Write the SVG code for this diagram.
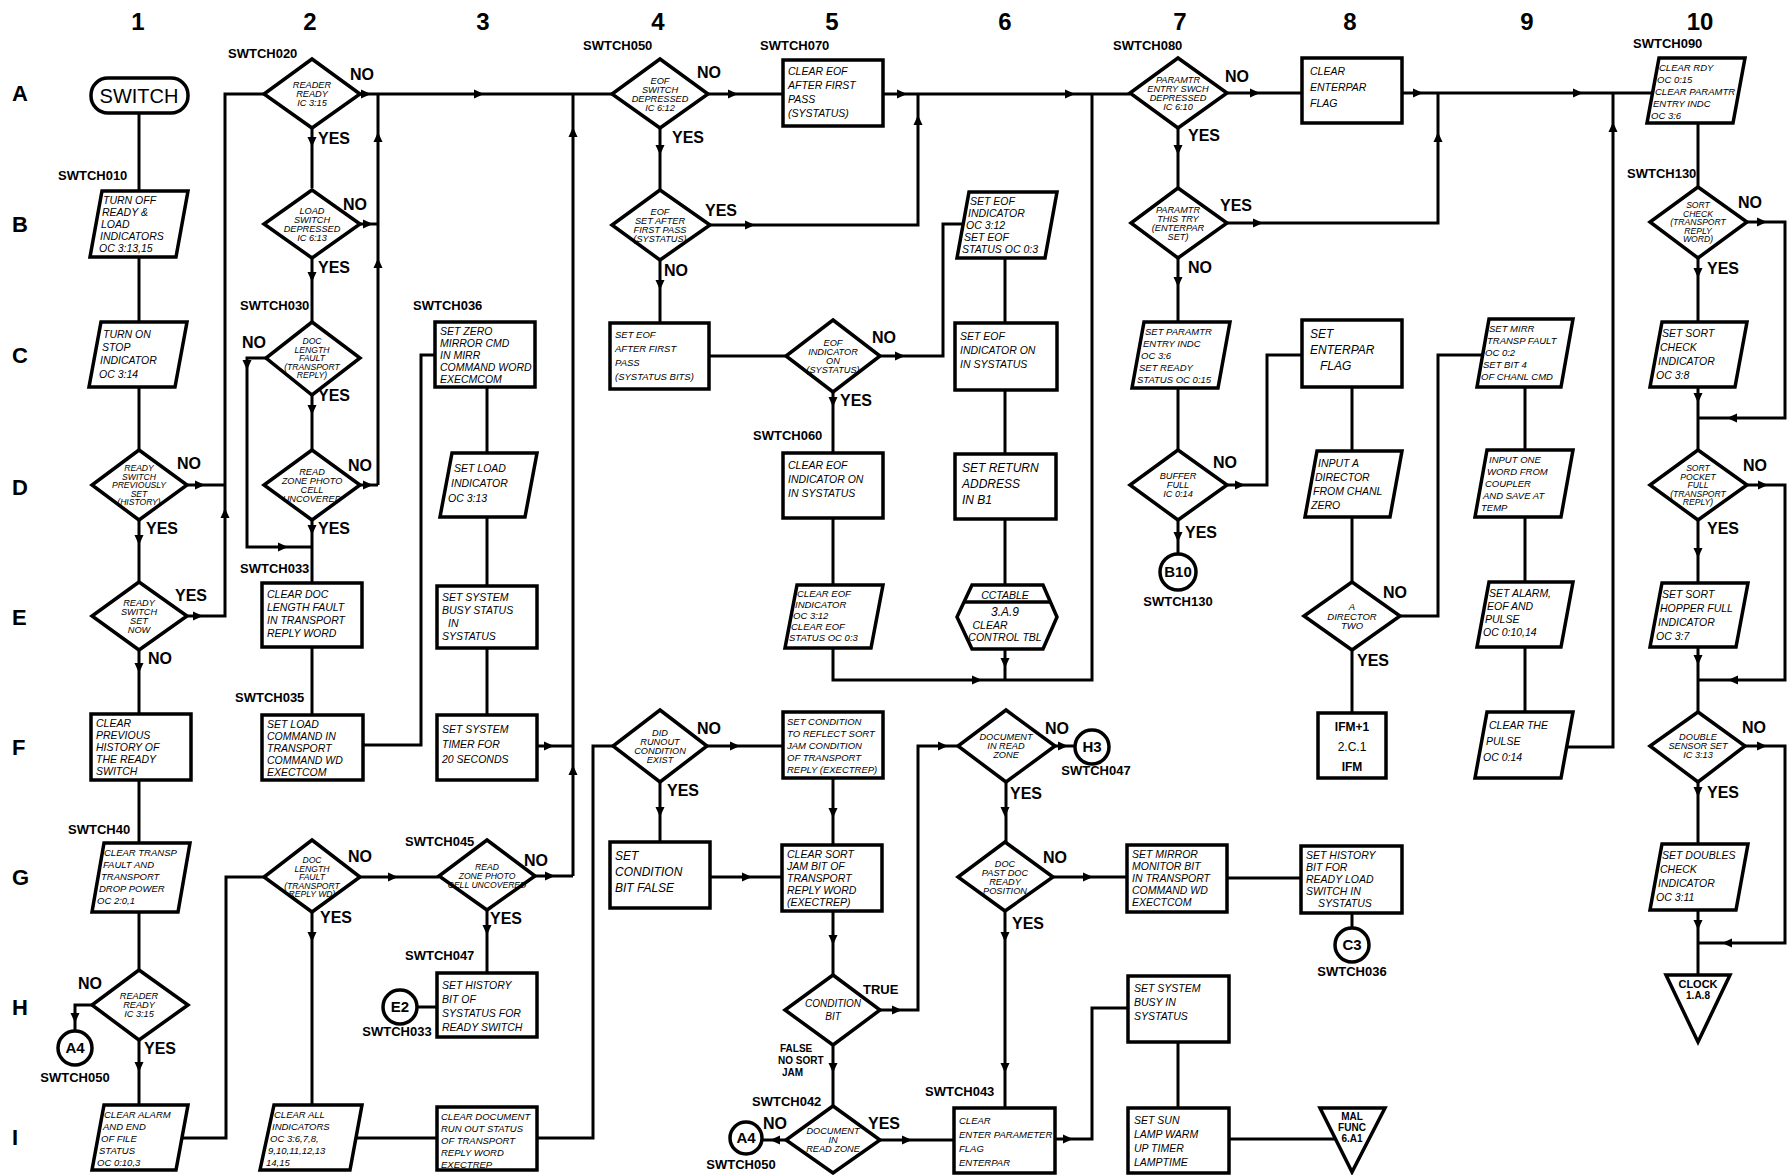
<svg xmlns="http://www.w3.org/2000/svg" xmlns:xlink="http://www.w3.org/1999/xlink" width="1788" height="1175" viewBox="0 0 1788 1175">
<defs>
<style>
.n rect,.n path,.n polygon,.n circle{fill:#fff;stroke:#000;stroke-width:3.5}
.c path{fill:none;stroke:#000;stroke-width:3}
.ar use{fill:#000}
text{font-family:"Liberation Sans",Arial,sans-serif;fill:#000}
.t{font-size:10.5px;font-style:italic}
.ts{font-size:9.5px;font-style:italic}
.tb{font-size:12px;font-style:italic}
.d{font-size:9.2px;font-style:italic;text-anchor:middle}
.ds{font-size:8.6px;font-style:italic;text-anchor:middle}
.lb{font-size:13px;font-weight:bold}
.lbm{font-size:13px;font-weight:bold;text-anchor:middle}
.yn{font-size:16px;font-weight:bold}
.hd{font-size:24px;font-weight:bold;text-anchor:middle}
.rw{font-size:22px;font-weight:bold}
.cn{font-size:15px;font-weight:bold;text-anchor:middle}
.tm{font-size:10px;font-weight:bold;text-anchor:middle}
</style>
<path id="ah" d="M-5,-4.5L5,0L-5,4.5Z"/>
</defs>
<rect width="1788" height="1175" fill="#fff"/>

<g id="headers">
<text class="hd" x="138" y="30">1</text>
<text class="hd" x="310" y="30">2</text>
<text class="hd" x="483" y="30">3</text>
<text class="hd" x="658" y="30">4</text>
<text class="hd" x="832" y="30">5</text>
<text class="hd" x="1005" y="30">6</text>
<text class="hd" x="1180" y="30">7</text>
<text class="hd" x="1350" y="30">8</text>
<text class="hd" x="1527" y="30">9</text>
<text class="hd" x="1700" y="30">10</text>
<text class="rw" x="12" y="101">A</text>
<text class="rw" x="12" y="232">B</text>
<text class="rw" x="12" y="363">C</text>
<text class="rw" x="12" y="495">D</text>
<text class="rw" x="12" y="625">E</text>
<text class="rw" x="12" y="755">F</text>
<text class="rw" x="12" y="885">G</text>
<text class="rw" x="12" y="1015">H</text>
<text class="rw" x="12" y="1145">I</text>
</g>

<g id="connectors" class="c">
<path d="M139,113V191"/>
<path d="M139,257V322"/>
<path d="M139,387V450"/>
<path d="M187,485H225"/>
<path d="M139,520V582"/>
<path d="M187,616H225V94H264"/>
<path d="M139,650V714"/>
<path d="M139,780V843"/>
<path d="M139,912V970"/>
<path d="M92,1005H75V1031"/>
<path d="M139,1040V1105"/>
<path d="M183,1138H226V877H264"/>
<path d="M312,128V188"/>
<path d="M360,94H612"/>
<path d="M378,485V94"/>
<path d="M360,224H378"/>
<path d="M312,258V322"/>
<path d="M266,358H247V547H312"/>
<path d="M312,395V450"/>
<path d="M360,485H378"/>
<path d="M312,520V583"/>
<path d="M312,647V715"/>
<path d="M363,745H421V355H435"/>
<path d="M360,877H439"/>
<path d="M312,912V1105"/>
<path d="M356,1138H437"/>
<path d="M487,387V453"/>
<path d="M487,517V586"/>
<path d="M487,648V715"/>
<path d="M537,746H573"/>
<path d="M573,876V94"/>
<path d="M535,876H573"/>
<path d="M487,910V973"/>
<path d="M418,1007H437"/>
<path d="M537,1138H593V746H613"/>
<path d="M708,94H783"/>
<path d="M660,128V190"/>
<path d="M710,225H918V94"/>
<path d="M660,260V323"/>
<path d="M709,356H786"/>
<path d="M707,746H783"/>
<path d="M660,782V842"/>
<path d="M710,877H782"/>
<path d="M883,94H1130"/>
<path d="M880,356H943V224H963"/>
<path d="M833,392V453"/>
<path d="M833,518V585"/>
<path d="M833,648V680H1092V94"/>
<path d="M833,778V845"/>
<path d="M833,911V975"/>
<path d="M880,1010H918V746H958"/>
<path d="M833,1045V1106"/>
<path d="M786,1140H762"/>
<path d="M880,1140H954"/>
<path d="M1005,258V323"/>
<path d="M1005,390V454"/>
<path d="M1005,519V585"/>
<path d="M1005,649V680"/>
<path d="M1055,746H1075"/>
<path d="M1006,782V842"/>
<path d="M1053,877H1127"/>
<path d="M1005,911V1108"/>
<path d="M1055,1139H1092V1008H1128"/>
<path d="M1227,93H1302"/>
<path d="M1178,128V188"/>
<path d="M1227,223H1438V93"/>
<path d="M1178,258V322"/>
<path d="M1178,388V450"/>
<path d="M1227,485H1267V355H1302"/>
<path d="M1178,520V554"/>
<path d="M1227,878H1301"/>
<path d="M1178,1042V1108"/>
<path d="M1229,1139H1337"/>
<path d="M1402,93H1653"/>
<path d="M1352,387V451"/>
<path d="M1352,517V582"/>
<path d="M1400,616H1438V355H1483"/>
<path d="M1352,650V713"/>
<path d="M1352,913V928"/>
<path d="M1525,387V450"/>
<path d="M1525,517V582"/>
<path d="M1525,647V712"/>
<path d="M1567,747H1613V93"/>
<path d="M1698,123V187"/>
<path d="M1747,222H1785V418H1698"/>
<path d="M1698,258V322"/>
<path d="M1698,387V450"/>
<path d="M1747,485H1785V680H1698"/>
<path d="M1698,520V583"/>
<path d="M1698,647V712"/>
<path d="M1745,746H1785V943H1698"/>
<path d="M1698,782V844"/>
<path d="M1698,910V975"/>
</g>

<g id="arrows" class="ar">
<use xlink:href="#ah" transform="translate(200,485)"/>
<use xlink:href="#ah" transform="translate(198,616)"/>
<use xlink:href="#ah" transform="translate(366,94)"/>
<use xlink:href="#ah" transform="translate(479,94)"/>
<use xlink:href="#ah" transform="translate(368,224)"/>
<use xlink:href="#ah" transform="translate(368,485)"/>
<use xlink:href="#ah" transform="translate(283,547)"/>
<use xlink:href="#ah" transform="translate(393,877)"/>
<use xlink:href="#ah" transform="translate(549,746)"/>
<use xlink:href="#ah" transform="translate(550,876)"/>
<use xlink:href="#ah" transform="translate(733,94)"/>
<use xlink:href="#ah" transform="translate(750,225)"/>
<use xlink:href="#ah" transform="translate(735,746)"/>
<use xlink:href="#ah" transform="translate(747,877)"/>
<use xlink:href="#ah" transform="translate(902,94)"/>
<use xlink:href="#ah" transform="translate(1070,94)"/>
<use xlink:href="#ah" transform="translate(900,356)"/>
<use xlink:href="#ah" transform="translate(977,680)"/>
<use xlink:href="#ah" transform="translate(897,1010)"/>
<use xlink:href="#ah" transform="translate(943,746)"/>
<use xlink:href="#ah" transform="translate(907,1140)"/>
<use xlink:href="#ah" transform="translate(1063,746)"/>
<use xlink:href="#ah" transform="translate(1088,877)"/>
<use xlink:href="#ah" transform="translate(1068,1139)"/>
<use xlink:href="#ah" transform="translate(1255,93)"/>
<use xlink:href="#ah" transform="translate(1258,223)"/>
<use xlink:href="#ah" transform="translate(1240,485)"/>
<use xlink:href="#ah" transform="translate(1418,93)"/>
<use xlink:href="#ah" transform="translate(1578,93)"/>
<use xlink:href="#ah" transform="translate(1762,222)"/>
<use xlink:href="#ah" transform="translate(1763,485)"/>
<use xlink:href="#ah" transform="translate(1762,746)"/>
<use xlink:href="#ah" transform="translate(139,540) rotate(90)"/>
<use xlink:href="#ah" transform="translate(139,668) rotate(90)"/>
<use xlink:href="#ah" transform="translate(75,1018) rotate(90)"/>
<use xlink:href="#ah" transform="translate(139,1067) rotate(90)"/>
<use xlink:href="#ah" transform="translate(312,142) rotate(90)"/>
<use xlink:href="#ah" transform="translate(312,277) rotate(90)"/>
<use xlink:href="#ah" transform="translate(247,365) rotate(90)"/>
<use xlink:href="#ah" transform="translate(312,410) rotate(90)"/>
<use xlink:href="#ah" transform="translate(312,530) rotate(90)"/>
<use xlink:href="#ah" transform="translate(312,937) rotate(90)"/>
<use xlink:href="#ah" transform="translate(487,930) rotate(90)"/>
<use xlink:href="#ah" transform="translate(660,150) rotate(90)"/>
<use xlink:href="#ah" transform="translate(660,285) rotate(90)"/>
<use xlink:href="#ah" transform="translate(660,812) rotate(90)"/>
<use xlink:href="#ah" transform="translate(833,402) rotate(90)"/>
<use xlink:href="#ah" transform="translate(833,813) rotate(90)"/>
<use xlink:href="#ah" transform="translate(833,940) rotate(90)"/>
<use xlink:href="#ah" transform="translate(833,1068) rotate(90)"/>
<use xlink:href="#ah" transform="translate(1005,663) rotate(90)"/>
<use xlink:href="#ah" transform="translate(1005,812) rotate(90)"/>
<use xlink:href="#ah" transform="translate(1005,937) rotate(90)"/>
<use xlink:href="#ah" transform="translate(1005,1068) rotate(90)"/>
<use xlink:href="#ah" transform="translate(1178,150) rotate(90)"/>
<use xlink:href="#ah" transform="translate(1178,282) rotate(90)"/>
<use xlink:href="#ah" transform="translate(1178,537) rotate(90)"/>
<use xlink:href="#ah" transform="translate(1698,273) rotate(90)"/>
<use xlink:href="#ah" transform="translate(1698,398) rotate(90)"/>
<use xlink:href="#ah" transform="translate(1698,553) rotate(90)"/>
<use xlink:href="#ah" transform="translate(1698,660) rotate(90)"/>
<use xlink:href="#ah" transform="translate(1698,792) rotate(90)"/>
<use xlink:href="#ah" transform="translate(1698,925) rotate(90)"/>
<use xlink:href="#ah" transform="translate(225,513) rotate(270)"/>
<use xlink:href="#ah" transform="translate(378,137) rotate(270)"/>
<use xlink:href="#ah" transform="translate(378,263) rotate(270)"/>
<use xlink:href="#ah" transform="translate(573,132) rotate(270)"/>
<use xlink:href="#ah" transform="translate(573,770) rotate(270)"/>
<use xlink:href="#ah" transform="translate(918,120) rotate(270)"/>
<use xlink:href="#ah" transform="translate(1438,137) rotate(270)"/>
<use xlink:href="#ah" transform="translate(1613,127) rotate(270)"/>
<use xlink:href="#ah" transform="translate(775,1140) rotate(180)"/>
<use xlink:href="#ah" transform="translate(1732,418) rotate(180)"/>
<use xlink:href="#ah" transform="translate(1733,680) rotate(180)"/>
<use xlink:href="#ah" transform="translate(1727,943) rotate(180)"/>
</g>

<g id="labels">
<text class="lb" x="58" y="180">SWTCH010</text>
<text class="lb" x="228" y="58">SWTCH020</text>
<text class="lb" x="240" y="310">SWTCH030</text>
<text class="lb" x="240" y="573">SWTCH033</text>
<text class="lb" x="235" y="702">SWTCH035</text>
<text class="lb" x="68" y="834">SWTCH40</text>
<text class="lb" x="413" y="310">SWTCH036</text>
<text class="lb" x="405" y="846">SWTCH045</text>
<text class="lb" x="405" y="960">SWTCH047</text>
<text class="lb" x="583" y="50">SWTCH050</text>
<text class="lb" x="760" y="50">SWTCH070</text>
<text class="lb" x="753" y="440">SWTCH060</text>
<text class="lb" x="752" y="1106">SWTCH042</text>
<text class="lb" x="925" y="1096">SWTCH043</text>
<text class="lb" x="1113" y="50">SWTCH080</text>
<text class="lb" x="1633" y="48">SWTCH090</text>
<text class="lb" x="1627" y="178">SWTCH130</text>
<text class="lbm" x="75" y="1082">SWTCH050</text>
<text class="lbm" x="397" y="1036">SWTCH033</text>
<text class="lbm" x="741" y="1169">SWTCH050</text>
<text class="lbm" x="1096" y="775">SWTCH047</text>
<text class="lbm" x="1178" y="606">SWTCH130</text>
<text class="lbm" x="1352" y="976">SWTCH036</text>
<text class="yn" x="177" y="469">NO</text>
<text class="yn" x="146" y="534">YES</text>
<text class="yn" x="175" y="601">YES</text>
<text class="yn" x="148" y="664">NO</text>
<text class="yn" x="350" y="80">NO</text>
<text class="yn" x="318" y="144">YES</text>
<text class="yn" x="343" y="210">NO</text>
<text class="yn" x="318" y="273">YES</text>
<text class="yn" x="242" y="348">NO</text>
<text class="yn" x="318" y="401">YES</text>
<text class="yn" x="348" y="471">NO</text>
<text class="yn" x="318" y="534">YES</text>
<text class="yn" x="348" y="862">NO</text>
<text class="yn" x="320" y="923">YES</text>
<text class="yn" x="524" y="866">NO</text>
<text class="yn" x="490" y="924">YES</text>
<text class="yn" x="78" y="989">NO</text>
<text class="yn" x="144" y="1054">YES</text>
<text class="yn" x="697" y="78">NO</text>
<text class="yn" x="672" y="143">YES</text>
<text class="yn" x="705" y="216">YES</text>
<text class="yn" x="664" y="276">NO</text>
<text class="yn" x="872" y="343">NO</text>
<text class="yn" x="840" y="406">YES</text>
<text class="yn" x="697" y="734">NO</text>
<text class="yn" x="667" y="796">YES</text>
<text class="yn" x="1225" y="82">NO</text>
<text class="yn" x="1188" y="141">YES</text>
<text class="yn" x="1220" y="211">YES</text>
<text class="yn" x="1188" y="273">NO</text>
<text class="yn" x="1213" y="468">NO</text>
<text class="yn" x="1185" y="538">YES</text>
<text class="yn" x="1045" y="734">NO</text>
<text class="yn" x="1010" y="799">YES</text>
<text class="yn" x="1043" y="863">NO</text>
<text class="yn" x="1012" y="929">YES</text>
<text class="lb" x="863" y="994">TRUE</text>
<text class="lb" x="780" y="1052" style="font-size:10px">FALSE</text>
<text class="lb" x="778" y="1064" style="font-size:10px">NO SORT</text>
<text class="lb" x="782" y="1076" style="font-size:10px">JAM</text>
<text class="yn" x="763" y="1129">NO</text>
<text class="yn" x="868" y="1129">YES</text>
<text class="yn" x="1383" y="598">NO</text>
<text class="yn" x="1357" y="666">YES</text>
<text class="yn" x="1738" y="208">NO</text>
<text class="yn" x="1707" y="274">YES</text>
<text class="yn" x="1743" y="471">NO</text>
<text class="yn" x="1707" y="534">YES</text>
<text class="yn" x="1742" y="733">NO</text>
<text class="yn" x="1707" y="798">YES</text>
</g>

<g id="n_switch" class="n"><rect x="91" y="78" width="97" height="35" rx="17"/><text x="139" y="103" style="font-size:20px;text-anchor:middle">SWITCH</text></g>
<g id="n_1B" class="n"><polygon points="102,191 188,191 176,257 90,257"/><text class="t"><tspan x="103" y="204">TURN OFF</tspan><tspan x="102" y="216">READY &amp;</tspan><tspan x="101" y="228">LOAD</tspan><tspan x="100" y="240">INDICATORS</tspan><tspan x="99" y="252">OC 3:13,15</tspan></text></g>
<g id="n_1C" class="n"><polygon points="101,322 187,322 175,387 89,387"/><text class="t"><tspan x="103" y="338">TURN ON</tspan><tspan x="102" y="351">STOP</tspan><tspan x="100" y="364">INDICATOR</tspan><tspan x="99" y="378">OC 3:14</tspan></text></g>
<g id="n_1D" class="n"><polygon points="139,450 187,485 139,520 92,485"/><text class="ds"><tspan x="139" y="471">READY</tspan><tspan x="139" y="479.5">SWITCH</tspan><tspan x="139" y="488">PREVIOUSLY</tspan><tspan x="139" y="496.5">SET</tspan><tspan x="139" y="505">(HISTORY)</tspan></text></g>
<g id="n_1E" class="n"><polygon points="139,582 187,616 139,650 92,616"/><text class="d"><tspan x="139" y="605.5">READY</tspan><tspan x="139" y="614.5">SWITCH</tspan><tspan x="139" y="623.5">SET</tspan><tspan x="139" y="632.5">NOW</tspan></text></g>
<g id="n_1F" class="n"><rect x="91" y="714" width="100" height="66"/><text class="t"><tspan x="96" y="727">CLEAR</tspan><tspan x="96" y="739">PREVIOUS</tspan><tspan x="96" y="751">HISTORY OF</tspan><tspan x="96" y="763">THE READY</tspan><tspan x="96" y="775">SWITCH</tspan></text></g>
<g id="n_1G" class="n"><polygon points="104,843 190,843 178,912 92,912"/><text class="ts"><tspan x="104" y="856">CLEAR TRANSP</tspan><tspan x="103" y="868">FAULT AND</tspan><tspan x="101" y="880">TRANSPORT</tspan><tspan x="99" y="892">DROP POWER</tspan><tspan x="97" y="904">OC 2:0,1</tspan></text></g>
<g id="n_1H" class="n"><polygon points="139,970 188,1005 139,1040 92,1005"/><text class="d"><tspan x="139" y="999">READER</tspan><tspan x="139" y="1008">READY</tspan><tspan x="139" y="1017">IC 3:15</tspan></text></g>
<g id="n_1H_A4" class="n"><circle cx="75" cy="1048" r="17"/><text class="cn" x="75" y="1053">A4</text></g>
<g id="n_1I" class="n"><polygon points="104,1105 188,1105 176,1170 92,1170"/><text class="ts"><tspan x="104" y="1118">CLEAR ALARM</tspan><tspan x="103" y="1130">AND END</tspan><tspan x="101" y="1142">OF FILE</tspan><tspan x="99" y="1154">STATUS</tspan><tspan x="97" y="1166">OC 0:10,3</tspan></text></g>

<g id="n_2A" class="n"><polygon points="312,59 360,94 312,128 264,94"/><text class="d"><tspan x="312" y="88">READER</tspan><tspan x="312" y="97">READY</tspan><tspan x="312" y="106">IC 3:15</tspan></text></g>
<g id="n_2B" class="n"><polygon points="312,190 360,224 312,258 264,224"/><text class="d"><tspan x="312" y="213.5">LOAD</tspan><tspan x="312" y="222.5">SWITCH</tspan><tspan x="312" y="231.5">DEPRESSED</tspan><tspan x="312" y="240.5">IC 6:13</tspan></text></g>
<g id="n_2C" class="n"><polygon points="312,322 360,358 312,395 266,358"/><text class="ds"><tspan x="312" y="344">DOC</tspan><tspan x="312" y="352.5">LENGTH</tspan><tspan x="312" y="361">FAULT</tspan><tspan x="312" y="369.5">(TRANSPORT</tspan><tspan x="312" y="378">REPLY)</tspan></text></g>
<g id="n_2D" class="n"><polygon points="312,450 360,485 312,520 264,485"/><text class="d"><tspan x="312" y="474.5">READ</tspan><tspan x="312" y="483.5">ZONE PHOTO</tspan><tspan x="312" y="492.5">CELL</tspan><tspan x="312" y="501.5">UNCOVERED</tspan></text></g>
<g id="n_2E" class="n"><rect x="262" y="583" width="100" height="64"/><text class="t"><tspan x="267" y="598">CLEAR DOC</tspan><tspan x="267" y="611">LENGTH FAULT</tspan><tspan x="267" y="624">IN TRANSPORT</tspan><tspan x="267" y="637">REPLY WORD</tspan></text></g>
<g id="n_2F" class="n"><rect x="262" y="715" width="101" height="65"/><text class="t"><tspan x="267" y="728">SET LOAD</tspan><tspan x="267" y="740">COMMAND IN</tspan><tspan x="267" y="752">TRANSPORT</tspan><tspan x="267" y="764">COMMAND WD</tspan><tspan x="267" y="776">EXECTCOM</tspan></text></g>
<g id="n_2G" class="n"><polygon points="312,840 360,877 312,912 264,877"/><text class="ds"><tspan x="312" y="863">DOC</tspan><tspan x="312" y="871.5">LENGTH</tspan><tspan x="312" y="880">FAULT</tspan><tspan x="312" y="888.5">(TRANSPORT</tspan><tspan x="312" y="897">REPLY WD)</tspan></text></g>
<g id="n_2I" class="n"><polygon points="274,1105 362,1105 350,1170 260,1170"/><text class="ts"><tspan x="274" y="1118">CLEAR ALL</tspan><tspan x="272" y="1130">INDICATORS</tspan><tspan x="270" y="1142">OC 3:6,7,8,</tspan><tspan x="268" y="1154">9,10,11,12,13</tspan><tspan x="266" y="1166">14,15</tspan></text></g>

<g id="n_3C" class="n"><rect x="435" y="322" width="100" height="65"/><text class="t"><tspan x="440" y="335">SET ZERO</tspan><tspan x="440" y="347">MIRROR CMD</tspan><tspan x="440" y="359">IN MIRR</tspan><tspan x="440" y="371">COMMAND WORD</tspan><tspan x="440" y="383">EXECMCOM</tspan></text></g>
<g id="n_3D" class="n"><polygon points="452,453 537,453 525,517 440,517"/><text class="t"><tspan x="454" y="472">SET LOAD</tspan><tspan x="451" y="487">INDICATOR</tspan><tspan x="448" y="502">OC 3:13</tspan></text></g>
<g id="n_3E" class="n"><rect x="437" y="586" width="100" height="62"/><text class="t"><tspan x="442" y="601">SET SYSTEM</tspan><tspan x="442" y="614">BUSY STATUS</tspan><tspan x="448" y="627">IN</tspan><tspan x="442" y="640">SYSTATUS</tspan></text></g>
<g id="n_3F" class="n"><rect x="437" y="715" width="100" height="65"/><text class="t"><tspan x="442" y="733">SET SYSTEM</tspan><tspan x="442" y="748">TIMER FOR</tspan><tspan x="442" y="763">20 SECONDS</tspan></text></g>
<g id="n_3G" class="n"><polygon points="487,840 535,876 487,910 439,876"/><text class="ds"><tspan x="487" y="870">READ</tspan><tspan x="487" y="879">ZONE PHOTO</tspan><tspan x="487" y="888">CELL UNCOVERED</tspan></text></g>
<g id="n_3H" class="n"><rect x="437" y="973" width="100" height="64"/><text class="t"><tspan x="442" y="989">SET HISTORY</tspan><tspan x="442" y="1003">BIT OF</tspan><tspan x="442" y="1017">SYSTATUS FOR</tspan><tspan x="442" y="1031">READY SWITCH</tspan></text></g>
<g id="n_3H_E2" class="n"><circle cx="400" cy="1007" r="17"/><text class="cn" x="400" y="1012">E2</text></g>
<g id="n_3I" class="n"><rect x="437" y="1107" width="100" height="63"/><text class="ts"><tspan x="441" y="1120">CLEAR DOCUMENT</tspan><tspan x="441" y="1132">RUN OUT STATUS</tspan><tspan x="441" y="1144">OF TRANSPORT</tspan><tspan x="441" y="1156">REPLY WORD</tspan><tspan x="441" y="1168">EXECTREP</tspan></text></g>

<g id="n_4A" class="n"><polygon points="660,59 708,94 660,128 612,94"/><text class="d"><tspan x="660" y="83.5">EOF</tspan><tspan x="660" y="92.5">SWITCH</tspan><tspan x="660" y="101.5">DEPRESSED</tspan><tspan x="660" y="110.5">IC 6:12</tspan></text></g>
<g id="n_4B" class="n"><polygon points="660,190 710,225 660,260 612,225"/><text class="d"><tspan x="660" y="214.5">EOF</tspan><tspan x="660" y="223.5">SET AFTER</tspan><tspan x="660" y="232.5">FIRST PASS</tspan><tspan x="660" y="241.5">(SYSTATUS)</tspan></text></g>
<g id="n_4C" class="n"><rect x="610" y="323" width="99" height="66"/><text class="ts"><tspan x="615" y="338">SET EOF</tspan><tspan x="615" y="352">AFTER FIRST</tspan><tspan x="615" y="366">PASS</tspan><tspan x="615" y="380">(SYSTATUS BITS)</tspan></text></g>
<g id="n_4F" class="n"><polygon points="660,710 707,746 660,782 613,746"/><text class="d"><tspan x="660" y="735.5">DID</tspan><tspan x="660" y="744.5">RUNOUT</tspan><tspan x="660" y="753.5">CONDITION</tspan><tspan x="660" y="762.5">EXIST</tspan></text></g>
<g id="n_4G" class="n"><rect x="610" y="842" width="100" height="66"/><text class="tb"><tspan x="615" y="860">SET</tspan><tspan x="615" y="876">CONDITION</tspan><tspan x="615" y="892">BIT FALSE</tspan></text></g>

<g id="n_5A" class="n"><rect x="783" y="60" width="100" height="66"/><text class="t"><tspan x="788" y="75">CLEAR EOF</tspan><tspan x="788" y="89">AFTER FIRST</tspan><tspan x="788" y="103">PASS</tspan><tspan x="788" y="117">(SYSTATUS)</tspan></text></g>
<g id="n_5C" class="n"><polygon points="833,320 880,356 833,392 786,356"/><text class="d"><tspan x="833" y="345.5">EOF</tspan><tspan x="833" y="354.5">INDICATOR</tspan><tspan x="833" y="363.5">ON</tspan><tspan x="833" y="372.5">(SYSTATUS)</tspan></text></g>
<g id="n_5D" class="n"><rect x="783" y="453" width="100" height="65"/><text class="t"><tspan x="788" y="469">CLEAR EOF</tspan><tspan x="788" y="483">INDICATOR ON</tspan><tspan x="788" y="497">IN SYSTATUS</tspan></text></g>
<g id="n_5E" class="n"><polygon points="797,585 883,585 871,648 785,648"/><text class="ts"><tspan x="797" y="597">CLEAR EOF</tspan><tspan x="795" y="608">INDICATOR</tspan><tspan x="793" y="619">OC 3:12</tspan><tspan x="791" y="630">CLEAR EOF</tspan><tspan x="789" y="641">STATUS OC 0:3</tspan></text></g>
<g id="n_5F" class="n"><rect x="783" y="712" width="100" height="66"/><text class="ts"><tspan x="787" y="725">SET CONDITION</tspan><tspan x="787" y="737">TO REFLECT SORT</tspan><tspan x="787" y="749">JAM CONDITION</tspan><tspan x="787" y="761">OF TRANSPORT</tspan><tspan x="787" y="773">REPLY (EXECTREP)</tspan></text></g>
<g id="n_5G" class="n"><rect x="782" y="845" width="100" height="66"/><text class="t"><tspan x="787" y="858">CLEAR SORT</tspan><tspan x="787" y="870">JAM BIT OF</tspan><tspan x="787" y="882">TRANSPORT</tspan><tspan x="787" y="894">REPLY WORD</tspan><tspan x="787" y="906">(EXECTREP)</tspan></text></g>
<g id="n_5H" class="n"><polygon points="833,975 880,1010 833,1045 785,1010"/><text class="d" style="font-size:10px"><tspan x="833" y="1007">CONDITION</tspan><tspan x="833" y="1020">BIT</tspan></text></g>
<g id="n_5I" class="n"><polygon points="833,1106 880,1140 833,1173 786,1140"/><text class="d"><tspan x="833" y="1134">DOCUMENT</tspan><tspan x="833" y="1143">IN</tspan><tspan x="833" y="1152">READ ZONE</tspan></text></g>
<g id="n_5I_A4" class="n"><circle cx="746" cy="1138" r="16"/><text class="cn" x="746" y="1143">A4</text></g>

<g id="n_6B" class="n"><polygon points="969,192 1057,192 1045,258 957,258"/><text class="t"><tspan x="970" y="205">SET EOF</tspan><tspan x="968" y="217">INDICATOR</tspan><tspan x="966" y="229">OC 3:12</tspan><tspan x="964" y="241">SET EOF</tspan><tspan x="962" y="253">STATUS OC 0:3</tspan></text></g>
<g id="n_6C" class="n"><rect x="955" y="323" width="102" height="67"/><text class="t"><tspan x="960" y="340">SET EOF</tspan><tspan x="960" y="354">INDICATOR ON</tspan><tspan x="960" y="368">IN SYSTATUS</tspan></text></g>
<g id="n_6D" class="n"><rect x="955" y="454" width="101" height="65"/><text class="tb"><tspan x="962" y="472">SET RETURN</tspan><tspan x="962" y="488">ADDRESS</tspan><tspan x="962" y="504">IN B1</tspan></text></g>
<g id="n_6E" class="n"><polygon points="972,585 1043,585 1057,617 1043,649 972,649 957,617"/><path d="M964,602H1050"/><text class="t" style="text-anchor:middle"><tspan x="1005" y="599">CCTABLE</tspan><tspan x="1005" y="616" style="font-size:12px">3.A.9</tspan><tspan x="990" y="629">CLEAR</tspan><tspan x="1005" y="641">CONTROL TBL</tspan></text></g>
<g id="n_6F" class="n"><polygon points="1006,710 1055,746 1006,782 958,746"/><text class="d"><tspan x="1006" y="740">DOCUMENT</tspan><tspan x="1006" y="749">IN READ</tspan><tspan x="1006" y="758">ZONE</tspan></text></g>
<g id="n_6F_H3" class="n"><circle cx="1092" cy="747" r="17"/><text class="cn" x="1092" y="752">H3</text></g>
<g id="n_6G" class="n"><polygon points="1005,842 1053,877 1005,911 958,877"/><text class="d"><tspan x="1005" y="866.5">DOC</tspan><tspan x="1005" y="875.5">PAST DOC</tspan><tspan x="1005" y="884.5">READY</tspan><tspan x="1005" y="893.5">POSITION</tspan></text></g>
<g id="n_6I" class="n"><rect x="954" y="1108" width="101" height="65"/><text class="ts"><tspan x="959" y="1124">CLEAR</tspan><tspan x="959" y="1138">ENTER PARAMETER</tspan><tspan x="959" y="1152">FLAG</tspan><tspan x="959" y="1166">ENTERPAR</tspan></text></g>

<g id="n_7A" class="n"><polygon points="1178,58 1227,93 1178,128 1130,93"/><text class="d"><tspan x="1178" y="82.5">PARAMTR</tspan><tspan x="1178" y="91.5">ENTRY SWCH</tspan><tspan x="1178" y="100.5">DEPRESSED</tspan><tspan x="1178" y="109.5">IC 6:10</tspan></text></g>
<g id="n_7B" class="n"><polygon points="1178,188 1227,223 1178,258 1131,223"/><text class="d"><tspan x="1178" y="212.5">PARAMTR</tspan><tspan x="1178" y="221.5">THIS TRY</tspan><tspan x="1178" y="230.5">(ENTERPAR</tspan><tspan x="1178" y="239.5">SET)</tspan></text></g>
<g id="n_7C" class="n"><polygon points="1144,322 1230,322 1218,388 1132,388"/><text class="ts"><tspan x="1145" y="335">SET PARAMTR</tspan><tspan x="1143" y="347">ENTRY INDC</tspan><tspan x="1141" y="359">OC 3:6</tspan><tspan x="1139" y="371">SET READY</tspan><tspan x="1137" y="383">STATUS OC 0:15</tspan></text></g>
<g id="n_7D" class="n"><polygon points="1178,450 1227,485 1178,520 1130,485"/><text class="d"><tspan x="1178" y="479">BUFFER</tspan><tspan x="1178" y="488">FULL</tspan><tspan x="1178" y="497">IC 0:14</tspan></text></g>
<g id="n_7D_B10" class="n"><circle cx="1178" cy="572" r="18"/><text class="cn" x="1178" y="577">B10</text></g>
<g id="n_7G" class="n"><rect x="1127" y="845" width="100" height="67"/><text class="t"><tspan x="1132" y="858">SET MIRROR</tspan><tspan x="1132" y="870">MONITOR BIT</tspan><tspan x="1132" y="882">IN TRANSPORT</tspan><tspan x="1132" y="894">COMMAND WD</tspan><tspan x="1132" y="906">EXECTCOM</tspan></text></g>
<g id="n_7H" class="n"><rect x="1128" y="976" width="101" height="66"/><text class="t"><tspan x="1134" y="992">SET SYSTEM</tspan><tspan x="1134" y="1006">BUSY IN</tspan><tspan x="1134" y="1020">SYSTATUS</tspan></text></g>
<g id="n_7I" class="n"><rect x="1128" y="1108" width="101" height="65"/><text class="t"><tspan x="1134" y="1124">SET SUN</tspan><tspan x="1134" y="1138">LAMP WARM</tspan><tspan x="1134" y="1152">UP TIMER</tspan><tspan x="1134" y="1166">LAMPTIME</tspan></text></g>

<g id="n_8A" class="n"><rect x="1302" y="58" width="100" height="65"/><text class="t"><tspan x="1310" y="75">CLEAR</tspan><tspan x="1310" y="91">ENTERPAR</tspan><tspan x="1310" y="107">FLAG</tspan></text></g>
<g id="n_8C" class="n"><rect x="1302" y="320" width="100" height="67"/><text class="tb"><tspan x="1310" y="338">SET</tspan><tspan x="1310" y="354">ENTERPAR</tspan><tspan x="1320" y="370">FLAG</tspan></text></g>
<g id="n_8D" class="n"><polygon points="1317,451 1402,451 1390,517 1305,517"/><text class="t"><tspan x="1318" y="467">INPUT A</tspan><tspan x="1315" y="481">DIRECTOR</tspan><tspan x="1313" y="495">FROM CHANL</tspan><tspan x="1311" y="509">ZERO</tspan></text></g>
<g id="n_8E" class="n"><polygon points="1352,582 1400,616 1352,650 1304,616"/><text class="d" style="font-size:9.5px"><tspan x="1352" y="610">A</tspan><tspan x="1352" y="619.5">DIRECTOR</tspan><tspan x="1352" y="629">TWO</tspan></text></g>
<g id="n_8F" class="n"><rect x="1318" y="713" width="68" height="65"/><text style="font-size:12px;text-anchor:middle"><tspan x="1352" y="731" font-weight="bold">IFM+1</tspan><tspan x="1352" y="751">2.C.1</tspan><tspan x="1352" y="771" font-weight="bold">IFM</tspan></text></g>
<g id="n_8G" class="n"><rect x="1301" y="846" width="101" height="67"/><text class="t"><tspan x="1306" y="859">SET HISTORY</tspan><tspan x="1306" y="871">BIT FOR</tspan><tspan x="1306" y="883">READY LOAD</tspan><tspan x="1306" y="895">SWITCH IN</tspan><tspan x="1318" y="907">SYSTATUS</tspan></text></g>
<g id="n_8G_C3" class="n"><circle cx="1352" cy="945" r="17"/><text class="cn" x="1352" y="950">C3</text></g>
<g id="n_8I" class="n"><polygon points="1320,1108 1385,1108 1352,1172"/><text class="tm"><tspan x="1352" y="1120">MAL</tspan><tspan x="1352" y="1131">FUNC</tspan><tspan x="1352" y="1142">6.A1</tspan></text></g>

<g id="n_9C" class="n"><polygon points="1489,319 1573,319 1561,387 1477,387"/><text class="ts"><tspan x="1489" y="332">SET MIRR</tspan><tspan x="1487" y="344">TRANSP FAULT</tspan><tspan x="1485" y="356">OC 0:2</tspan><tspan x="1483" y="368">SET BIT 4</tspan><tspan x="1481" y="380">OF CHANL CMD</tspan></text></g>
<g id="n_9D" class="n"><polygon points="1487,450 1573,450 1561,517 1475,517"/><text class="ts"><tspan x="1489" y="463">INPUT ONE</tspan><tspan x="1487" y="475">WORD FROM</tspan><tspan x="1485" y="487">COUPLER</tspan><tspan x="1483" y="499">AND SAVE AT</tspan><tspan x="1481" y="511">TEMP</tspan></text></g>
<g id="n_9E" class="n"><polygon points="1489,582 1573,582 1561,647 1477,647"/><text class="t"><tspan x="1489" y="597">SET ALARM,</tspan><tspan x="1487" y="610">EOF AND</tspan><tspan x="1485" y="623">PULSE</tspan><tspan x="1483" y="636">OC 0:10,14</tspan></text></g>
<g id="n_9F" class="n"><polygon points="1487,712 1573,712 1561,778 1475,778"/><text class="t"><tspan x="1489" y="729">CLEAR THE</tspan><tspan x="1486" y="745">PULSE</tspan><tspan x="1483" y="761">OC 0:14</tspan></text></g>

<g id="n_10A" class="n"><polygon points="1659,58 1745,58 1733,123 1647,123"/><text class="ts"><tspan x="1659" y="71">CLEAR RDY</tspan><tspan x="1657" y="83">OC 0:15</tspan><tspan x="1655" y="95">CLEAR PARAMTR</tspan><tspan x="1653" y="107">ENTRY INDC</tspan><tspan x="1651" y="119">OC 3:6</tspan></text></g>
<g id="n_10B" class="n"><polygon points="1698,187 1747,222 1698,258 1650,222"/><text class="ds"><tspan x="1698" y="208">SORT</tspan><tspan x="1698" y="216.5">CHECK</tspan><tspan x="1698" y="225">(TRANSPORT</tspan><tspan x="1698" y="233.5">REPLY</tspan><tspan x="1698" y="242">WORD)</tspan></text></g>
<g id="n_10C" class="n"><polygon points="1662,322 1747,322 1735,387 1650,387"/><text class="t"><tspan x="1662" y="337">SET SORT</tspan><tspan x="1660" y="351">CHECK</tspan><tspan x="1658" y="365">INDICATOR</tspan><tspan x="1656" y="379">OC 3:8</tspan></text></g>
<g id="n_10D" class="n"><polygon points="1698,450 1747,485 1698,520 1650,485"/><text class="ds"><tspan x="1698" y="471">SORT</tspan><tspan x="1698" y="479.5">POCKET</tspan><tspan x="1698" y="488">FULL</tspan><tspan x="1698" y="496.5">(TRANSPORT</tspan><tspan x="1698" y="505">REPLY)</tspan></text></g>
<g id="n_10E" class="n"><polygon points="1662,583 1748,583 1736,647 1650,647"/><text class="t"><tspan x="1662" y="598">SET SORT</tspan><tspan x="1660" y="612">HOPPER FULL</tspan><tspan x="1658" y="626">INDICATOR</tspan><tspan x="1656" y="640">OC 3:7</tspan></text></g>
<g id="n_10F" class="n"><polygon points="1698,712 1745,746 1698,782 1650,746"/><text class="d"><tspan x="1698" y="740">DOUBLE</tspan><tspan x="1698" y="749">SENSOR SET</tspan><tspan x="1698" y="758">IC 3:13</tspan></text></g>
<g id="n_10G" class="n"><polygon points="1662,844 1748,844 1736,910 1650,910"/><text class="t"><tspan x="1662" y="859">SET DOUBLES</tspan><tspan x="1660" y="873">CHECK</tspan><tspan x="1658" y="887">INDICATOR</tspan><tspan x="1656" y="901">OC 3:11</tspan></text></g>
<g id="n_10H" class="n"><polygon points="1666,975 1730,975 1698,1042"/><text class="tm"><tspan x="1698" y="988" style="font-size:11px">CLOCK</tspan><tspan x="1698" y="999">1.A.8</tspan></text></g>
</svg>
